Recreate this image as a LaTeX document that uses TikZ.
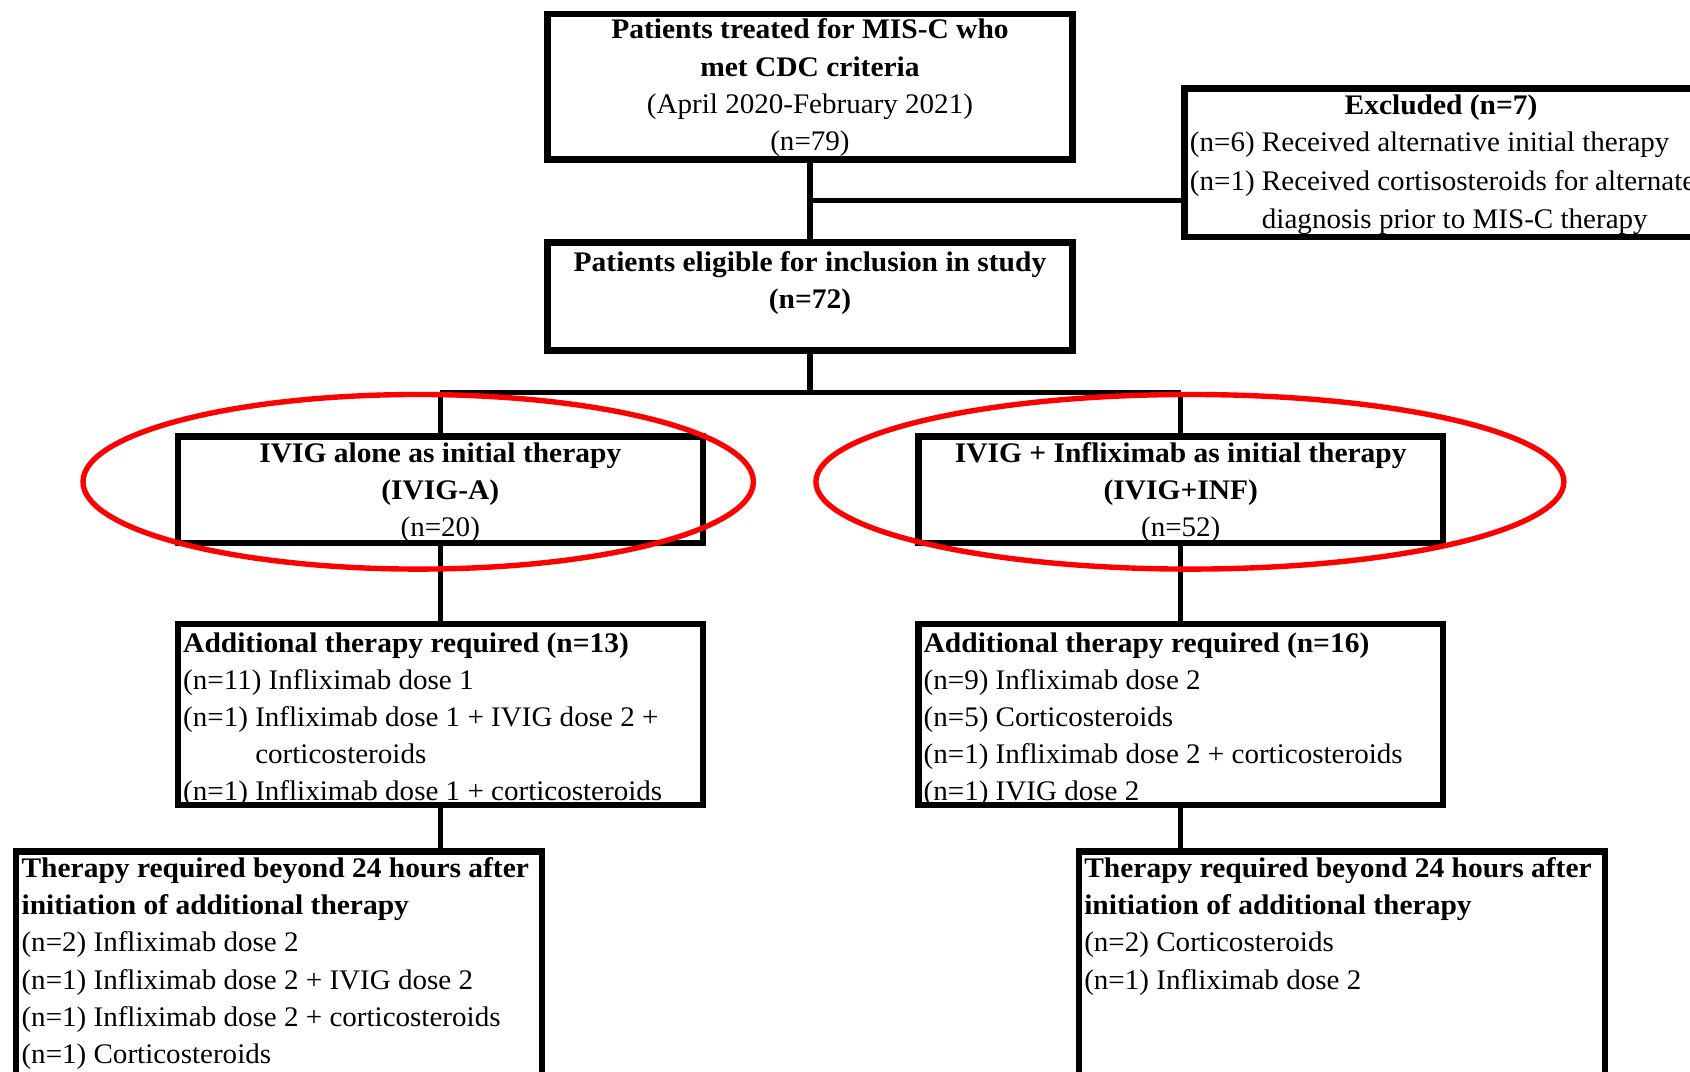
\documentclass[tikz,border=0pt]{standalone}
\usepackage{fontspec}
\setmainfont{Liberation Serif}[UprightFeatures={FakeStretch=1.025},BoldFeatures={FakeStretch=1.04}]
\begin{document}
\begin{tikzpicture}[x=1pt,y=-1pt,
  box/.style={draw=black,line width=6pt,rectangle,inner sep=0pt,outer sep=0pt},
  conn/.style={draw=black,line width=5pt},
  txt/.style={inner sep=0pt,outer sep=0pt,font=\fontsize{26.3}{34.5}\selectfont},
  oval/.style={draw={rgb,255:red,255;green,0;blue,0},line width=5pt}]
\useasboundingbox (0,0) rectangle (1568,994);
\clip (0,0) rectangle (1568,994);
\fill[white] (0,0) rectangle (1568,994);
% boxes
\node[box,minimum width=487pt,minimum height=135pt] (b1) at (751.5,80.5) {};
\node[box,minimum width=541pt,minimum height=138pt] (ex) at (1369.5,151) {};
\node[box,minimum width=487pt,minimum height=100pt] (b2) at (751.5,275) {};
\node[box,minimum width=487pt,minimum height=99pt] (b3) at (408.5,454.5) {};
\node[box,minimum width=487pt,minimum height=99pt] (b4) at (1095.5,454.5) {};
\node[box,minimum width=487pt,minimum height=168pt] (b5) at (408.5,663) {};
\node[box,minimum width=487pt,minimum height=168pt] (b6) at (1095.5,663) {};
\node[box,minimum width=488pt,minimum height=260pt] (b7) at (259,920) {};
\node[box,minimum width=488pt,minimum height=260pt] (b8) at (1245,920) {};
% connectors
\coordinate (j1) at (751.5,186);
\coordinate (j2) at (751.5,364);
\draw[conn] (b1.south) -- (b2.north);
\draw[conn] (j1) -- (ex.west |- j1);
\draw[conn] (b2.south) -- (j2);
\draw[conn] (b3.north |- j2) -- (b4.north |- j2);
\draw[conn] (b3.north |- j2) -- (b3.north);
\draw[conn] (b4.north |- j2) -- (b4.north);
\draw[conn] (b3.south) -- (b5.north);
\draw[conn] (b4.south) -- (b6.north);
\draw[conn] (b5.south) -- (b5.south |- b7.north);
\draw[conn] (b6.south) -- (b6.south |- b8.north);
% texts
\node[txt,align=center,anchor=north] (t1) at (751.5,12) {\strut\textbf{Patients treated for MIS-C who}\\\textbf{met CDC criteria}\\(April 2020-February 2021)\\(n=79)};
\node[txt,anchor=north] (tex) at (1337,82) {\strut\textbf{Excluded (n=7)}};
\node[txt,align=left,anchor=north west] (tex2) at (1104,116) {\strut(n=6) Received alternative initial therapy\\[2pt](n=1) Received cortisosteroids for alternate\\[1pt]\phantom{(n=1)\ }diagnosis prior to MIS-C therapy};
\node[txt,align=center,anchor=north] (t2) at (751.5,228) {\strut\textbf{Patients eligible for inclusion in study}\\\textbf{(n=72)}};
\node[txt,align=center,anchor=north] (t3) at (408.5,405) {\strut\textbf{IVIG alone as initial therapy}\\\textbf{(IVIG-A)}\\(n=20)};
\node[txt,align=center,anchor=north] (t4) at (1095.5,405) {\strut\textbf{IVIG + Infliximab as initial therapy}\\\textbf{(IVIG+INF)}\\(n=52)};
\node[txt,align=left,anchor=north west] (t5) at (170,581) {\strut\textbf{Additional therapy required (n=13)}\\(n=11) Infliximab dose 1\\(n=1) Infliximab dose 1 + IVIG dose 2 +\\\phantom{(n=1)\ }corticosteroids\\(n=1) Infliximab dose 1 + corticosteroids};
\node[txt,align=left,anchor=north west] (t6) at (857,581) {\strut\textbf{Additional therapy required (n=16)}\\(n=9) Infliximab dose 2\\(n=5) Corticosteroids\\(n=1) Infliximab dose 2 + corticosteroids\\(n=1) IVIG dose 2};
\node[txt,align=left,anchor=north west] (t7) at (20,790) {\strut\textbf{Therapy required beyond 24 hours after}\\\textbf{initiation of additional therapy}\\(n=2) Infliximab dose 2\\(n=1) Infliximab dose 2 + IVIG dose 2\\(n=1) Infliximab dose 2 + corticosteroids\\(n=1) Corticosteroids};
\node[txt,align=left,anchor=north west] (t8) at (1006,790) {\strut\textbf{Therapy required beyond 24 hours after}\\\textbf{initiation of additional therapy}\\(n=2) Corticosteroids\\(n=1) Infliximab dose 2};
% red ovals
\draw[oval] (388,447) ellipse [x radius=311, y radius=81];
\draw[oval] (1104,447) ellipse [x radius=347, y radius=81];
\end{tikzpicture}
\end{document}
